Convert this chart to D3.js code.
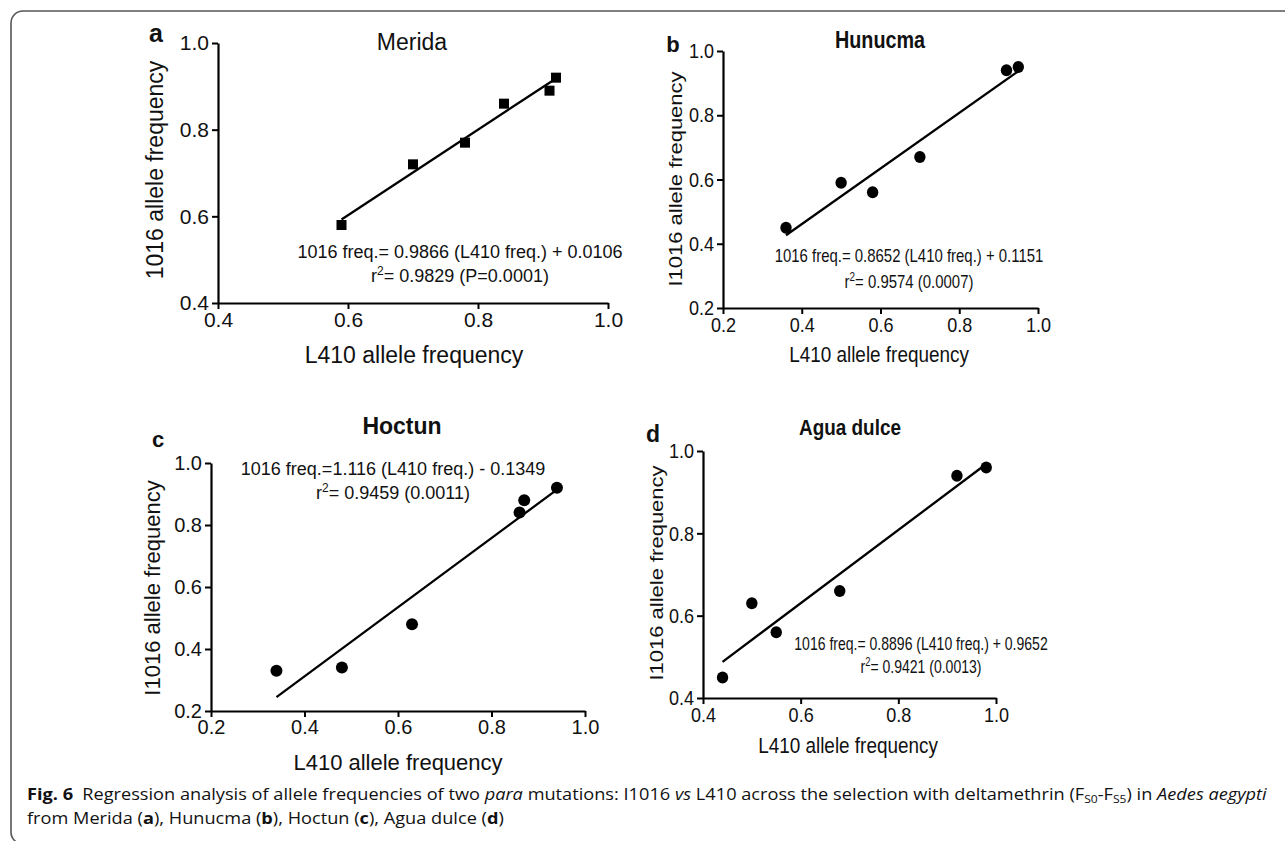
<!DOCTYPE html>
<html>
<head>
<meta charset="utf-8">
<script src="https://cdn.jsdelivr.net/npm/d3@7"></script>
<style>
body { margin: 0; background: #fff; }
svg { display: block; }
</style>
</head>
<body>
<div id="fig"></div>
<script>
// values: L410 (x) and I1016 (y) allele frequencies
var meridaL410   = [0.59, 0.70, 0.78, 0.84, 0.91, 0.92],
    meridaI1016  = [0.58, 0.72, 0.77, 0.86, 0.89, 0.92];
var hunucmaL410  = [0.36, 0.50, 0.58, 0.70, 0.92, 0.95],
    hunucmaI1016 = [0.45, 0.59, 0.56, 0.67, 0.94, 0.95];
var hoctunL410   = [0.34, 0.48, 0.63, 0.86, 0.87, 0.94],
    hoctunI1016  = [0.33, 0.34, 0.48, 0.84, 0.88, 0.92];
var aguaL410     = [0.44, 0.50, 0.55, 0.68, 0.92, 0.98],
    aguaI1016    = [0.45, 0.63, 0.56, 0.66, 0.94, 0.96];

// regression fits [slope, intercept]
var meridaFit  = [0.9866, 0.0106],
    hunucmaFit = [0.8652, 0.1151],
    hoctunFit  = [1.116, -0.1349],
    aguaFit    = [0.8896, 0.09652];

var ticksFrom04 = [0.4, 0.6, 0.8, 1.0],
    ticksFrom02 = [0.2, 0.4, 0.6, 0.8, 1.0];

var panelLetters = ["a", "b", "c", "d"],
    panelTitles  = ["Merida", "Hunucma", "Hoctun", "Agua dulce"],
    yTitles      = ["1016 allele frequency", "I1016 allele frequency", "I1016 allele frequency", "I1016 allele frequency"],
    xTitle       = "L410 allele frequency";

var eqText = ["1016 freq.= 0.9866 (L410 freq.) + 0.0106",
              "1016 freq.= 0.8652 (L410 freq.) + 0.1151",
              "1016 freq.=1.116 (L410 freq.) - 0.1349",
              "1016 freq.= 0.8896 (L410 freq.) + 0.9652"];
var r2Text = ["= 0.9829 (P=0.0001)", "= 0.9574 (0.0007)", "= 0.9459 (0.0011)", "= 0.9421 (0.0013)"];

var W = 1285, H = 841;
var FONT = "'Liberation Sans', Arial, sans-serif";

var svg = d3.select("#fig").append("svg")
  .attr("width", W)
  .attr("height", H)
  .style("font-family", FONT);

// rounded frame round the figure
svg.append("path")
  .attr("d", "M1290,11 H23 A12,12 0 0 0 11,23 V832 A12,12 0 0 0 23,844 H1290")
  .attr("fill", "none")
  .attr("stroke", "#555")
  .attr("stroke-width", 1.6);

// panel layout
var panels = [
  {x: meridaL410, y: meridaI1016, fit: meridaFit, ticks: ticksFrom04, marker: "square",
   xr: [218, 608], yr: [303, 43], sx: 1, eqSx: 1, tickFs: 21, labFs: 23, titleFs: 23, bold: false,
   title: [412, 50], letter: [156, 42], letterFs: 25, ylab: [163, 170], xlab: [414, 363], eq: [460, 258, 282]},
  {x: hunucmaL410, y: hunucmaI1016, fit: hunucmaFit, ticks: ticksFrom02, marker: "circle",
   xr: [723, 1038], yr: [308, 51], sx: 0.86, eqSx: 0.83, tickFs: 21, labFs: 22, titleFs: 23, bold: true,
   title: [880, 48], letter: [673, 52], letterFs: 22, ylab: [682, 179], xlab: [879, 362], eq: [909, 262, 288]},
  {x: hoctunL410, y: hoctunI1016, fit: hoctunFit, ticks: ticksFrom02, marker: "circle",
   xr: [211, 585], yr: [711, 463], sx: 1, eqSx: 1, tickFs: 20, labFs: 22, titleFs: 23, bold: true,
   title: [402, 434], letter: [158, 447], letterFs: 22, ylab: [160, 588], xlab: [398, 770], eq: [393, 475, 499]},
  {x: aguaL410, y: aguaI1016, fit: aguaFit, ticks: ticksFrom04, marker: "circle",
   xr: [703, 996], yr: [698, 451], sx: 0.86, eqSx: 0.78, tickFs: 21, labFs: 22, titleFs: 22, bold: true,
   title: [850, 435], letter: [653, 442], letterFs: 23, ylab: [663, 573], xlab: [848, 753], eq: [921, 650, 673]}
];

// text helper, sx squeezes the glyphs horizontally like the source panels
function addText(g, px, py, str, fs, opts) {
  opts = opts || {};
  var sx = opts.sx || 1;
  var tr = "translate(" + px + "," + py + ") scale(" + sx + ",1)" + (opts.rot ? " rotate(-90)" : "");
  return g.append("text")
    .attr("transform", tr)
    .attr("text-anchor", opts.anchor || "middle")
    .attr("font-size", fs)
    .attr("font-weight", opts.bold ? "bold" : "normal")
    .attr("fill", "#111")
    .text(str);
}

panels.forEach(function(p, i) {
  var g = svg.append("g");
  var x = d3.scaleLinear().domain([p.ticks[0], 1.0]).range(p.xr);
  var y = d3.scaleLinear().domain([p.ticks[0], 1.0]).range(p.yr);
  var fmt = d3.format(".1f");

  // y axis
  var ya = g.append("g")
    .attr("transform", "translate(" + p.xr[0] + ",0)")
    .call(d3.axisLeft(y).tickValues(p.ticks).tickFormat(fmt).tickSize(6).tickSizeOuter(0).tickPadding(3));
  ya.selectAll("text")
    .attr("x", -9 / p.sx)
    .attr("transform", "scale(" + p.sx + ",1)");

  // x axis
  var xa = g.append("g")
    .attr("transform", "translate(0," + p.yr[0] + ")")
    .call(d3.axisBottom(x).tickValues(p.ticks).tickFormat(fmt).tickSize(6).tickSizeOuter(0).tickPadding(3));
  xa.selectAll("text")
    .attr("x", 0)
    .attr("transform", "scale(" + p.sx + ",1)");

  [ya, xa].forEach(function(ax) {
    ax.select(".domain").attr("stroke", "#000").attr("stroke-width", 2.2);
    ax.selectAll(".tick line").attr("stroke", "#000").attr("stroke-width", 2);
    ax.selectAll(".tick text")
      .attr("fill", "#111")
      .style("font-family", FONT)
      .style("font-size", p.tickFs + "px");
  });

  // regression line over the range of the points
  var x0 = d3.min(p.x), x1 = d3.max(p.x);
  g.append("line")
    .attr("x1", x(x0)).attr("y1", y(p.fit[0] * x0 + p.fit[1]))
    .attr("x2", x(x1)).attr("y2", y(p.fit[0] * x1 + p.fit[1]))
    .attr("stroke", "#000")
    .attr("stroke-width", 2.3);

  // points
  var pts = p.x.map(function(v, k) { return [v, p.y[k]]; });
  if (p.marker === "square") {
    g.selectAll("rect.pt").data(pts).enter().append("rect")
      .attr("class", "pt")
      .attr("x", function(d) { return x(d[0]) - 5; })
      .attr("y", function(d) { return y(d[1]) - 5; })
      .attr("width", 10)
      .attr("height", 10)
      .attr("fill", "#000");
  } else {
    g.selectAll("ellipse.pt").data(pts).enter().append("ellipse")
      .attr("class", "pt")
      .attr("cx", function(d) { return x(d[0]); })
      .attr("cy", function(d) { return y(d[1]); })
      .attr("rx", 6 * Math.max(p.sx, 0.95))
      .attr("ry", 6)
      .attr("fill", "#000");
  }

  // titles and labels
  addText(g, p.title[0], p.title[1], panelTitles[i], p.titleFs, {bold: p.bold, sx: p.sx});
  addText(g, p.letter[0], p.letter[1], panelLetters[i], p.letterFs, {bold: true});
  addText(g, p.ylab[0], p.ylab[1], yTitles[i], p.labFs, {rot: true, sx: p.sx});
  addText(g, p.xlab[0], p.xlab[1], xTitle, p.labFs, {sx: p.sx});

  // regression equation
  addText(g, p.eq[0], p.eq[1], eqText[i], 18, {sx: p.eqSx});
  var r2 = addText(g, p.eq[0], p.eq[2], "", 18, {sx: p.eqSx});
  r2.append("tspan").text("r");
  r2.append("tspan").attr("font-size", 12).attr("dy", -7).text("2");
  r2.append("tspan").attr("dy", 7).text(r2Text[i]);
});

// caption
var cap = svg.append("g").style("font-family", "'Open Sans', 'Noto Sans', sans-serif").attr("fill", "#111");
var line1 = cap.append("text").attr("font-size", 16.5);
line1.append("tspan").attr("font-weight", "bold").text("Fig. 6");
line1.append("tspan").text("\u2002Regression analysis of allele frequencies of two ");
line1.append("tspan").attr("font-style", "italic").text("para");
line1.append("tspan").text(" mutations: I1016 ");
line1.append("tspan").attr("font-style", "italic").text("vs");
line1.append("tspan").text(" L410 across the selection with deltamethrin (F");
line1.append("tspan").attr("font-size", 11).attr("dy", 3).text("S0");
line1.append("tspan").attr("dy", -3).text("-F");
line1.append("tspan").attr("font-size", 11).attr("dy", 3).text("S5");
line1.append("tspan").attr("dy", -3).text(") in ");
line1.append("tspan").attr("font-style", "italic").text("Aedes aegypti");

var line2 = cap.append("text").attr("font-size", 16.5);
var parts = [["from Merida (", 0], ["a", 1], ["), Hunucma (", 0], ["b", 1], ["), Hoctun (", 0], ["c", 1], ["), Agua dulce (", 0], ["d", 1], [")", 0]];
parts.forEach(function(pt) {
  line2.append("tspan").attr("font-weight", pt[1] ? "bold" : "normal").text(pt[0]);
});

// squeeze the caption to the width it has in the source
var capSx = 1240 / line1.node().getComputedTextLength();
line1.attr("transform", "translate(27,800) scale(" + capSx + ",1)");
line2.attr("transform", "translate(27,824) scale(" + capSx + ",1)");
</script>
</body>
</html>
